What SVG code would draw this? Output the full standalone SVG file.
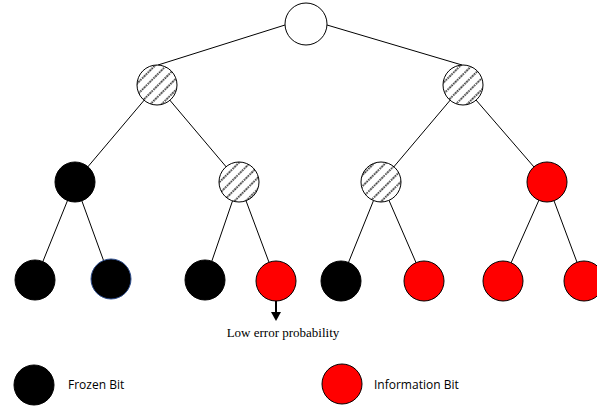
<svg xmlns="http://www.w3.org/2000/svg" width="597" height="409" viewBox="0 0 597 409">
<defs>
<pattern id="hatch" patternUnits="userSpaceOnUse" width="8" height="8" patternTransform="rotate(-45)">
<rect width="8" height="8" fill="#fff"/>
<line x1="0" y1="4" x2="8" y2="4" stroke="#000" stroke-width="1.6" stroke-dasharray="1.5,1"/>
</pattern>
</defs>
<style>
.e{stroke:#000;stroke-width:1;fill:none}
.w{fill:#fff;stroke:#000;stroke-width:1}
.h{fill:url(#hatch);stroke:#000;stroke-width:1}
.b{fill:#000;stroke:#000;stroke-width:1}
.r{fill:#f00;stroke:#000;stroke-width:1}
.t{font-family:"Liberation Serif",serif;font-size:13px;fill:#000}
.l{font-family:"Open Sans","Liberation Sans",sans-serif;font-size:12px;fill:#000}
</style>
<g id="connectors">
<line class="e" x1="285" y1="25" x2="158" y2="65"/>
<line class="e" x1="327" y1="25" x2="462" y2="65"/>
<line class="e" x1="157" y1="85" x2="75" y2="182"/>
<line class="e" x1="157" y1="85" x2="239" y2="182"/>
<line class="e" x1="463" y1="85" x2="381" y2="182"/>
<line class="e" x1="463" y1="85" x2="547" y2="182"/>
<line class="e" x1="75" y1="182" x2="35" y2="281"/>
<line class="e" x1="75" y1="182" x2="111" y2="281"/>
<line class="e" x1="239" y1="182" x2="205" y2="281"/>
<line class="e" x1="239" y1="182" x2="276" y2="281"/>
<line class="e" x1="381" y1="182" x2="341" y2="281"/>
<line class="e" x1="381" y1="182" x2="424" y2="281"/>
<line class="e" x1="547" y1="182" x2="503" y2="281"/>
<line class="e" x1="547" y1="182" x2="584" y2="281"/>
<line stroke="#000" stroke-width="2" x1="276" y1="301" x2="276" y2="313"/>
<polygon points="271,312 281,312 276,321" fill="#000"/>
</g>
<g id="n0"><circle class="w" cx="306" cy="24" r="21"/></g>
<g id="n1"><circle class="h" cx="157" cy="85" r="20"/></g>
<g id="n2"><circle class="h" cx="463" cy="85" r="20"/></g>
<g id="n3"><circle class="b" cx="75" cy="182" r="20"/></g>
<g id="n4"><circle class="h" cx="239" cy="182" r="20"/></g>
<g id="n5"><circle class="h" cx="381" cy="182" r="20"/></g>
<g id="n6"><circle class="r" cx="547" cy="182" r="20"/></g>
<g id="n7"><circle class="b" cx="35" cy="280" r="20"/></g>
<g id="n8"><circle fill="#000" stroke="#2f4f8f" stroke-width="1" cx="111" cy="279" r="20"/></g>
<g id="n9"><circle class="b" cx="205" cy="280" r="20"/></g>
<g id="n10"><circle class="r" cx="276" cy="281" r="20"/></g>
<g id="n11"><circle class="b" cx="341" cy="281" r="20"/></g>
<g id="n12"><circle class="r" cx="424" cy="281" r="20"/></g>
<g id="n13"><circle class="r" cx="503" cy="281" r="20"/></g>
<g id="n14"><circle class="r" cx="584" cy="281" r="20"/></g>
<text class="t" x="283" y="337" text-anchor="middle">Low error probability</text>
<g id="legend-frozen">
<circle class="b" cx="34" cy="385" r="20"/>
<text class="l" x="68" y="389">Frozen Bit</text>
</g>
<g id="legend-info">
<circle class="r" cx="342" cy="384" r="20"/>
<text class="l" x="374" y="389">Information Bit</text>
</g>
</svg>
